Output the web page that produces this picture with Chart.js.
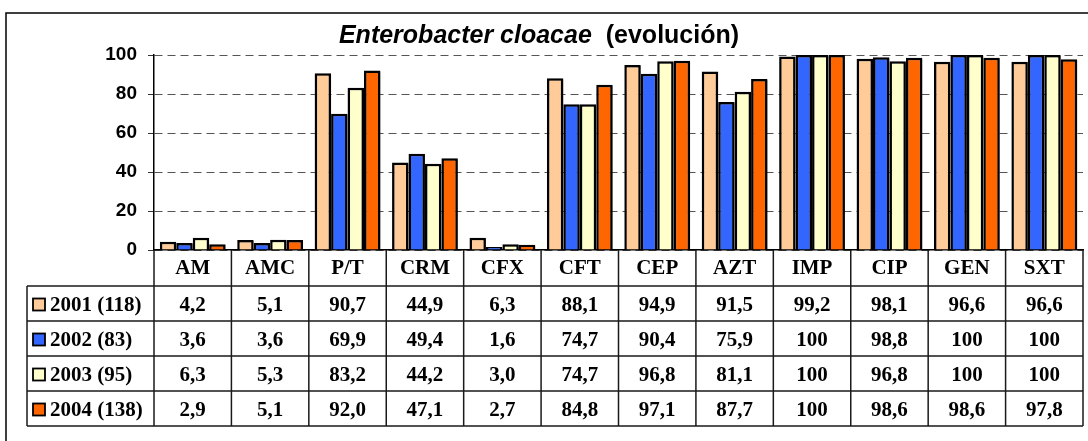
<!DOCTYPE html>
<html>
<head>
<meta charset="utf-8">
<script src="https://cdn.jsdelivr.net/npm/chart.js@4/dist/chart.umd.min.js"></script>
<style>
  html, body { margin: 0; padding: 0; background: #fff; }
  #wrap { width: 1088px; height: 441px; }
</style>
</head>
<body>
<div id="wrap"><canvas id="chart" width="1088" height="441"></canvas></div>
<script>
const categories = ["AM", "AMC", "P/T", "CRM", "CFX", "CFT", "CEP", "AZT", "IMP", "CIP", "GEN", "SXT"];
const seriesLabels = ["2001 (118)", "2002 (83)", "2003 (95)", "2004 (138)"];
const seriesColors = ["#FFCC99", "#3366FF", "#FFFFCC", "#FF6600"];

const v2001 = [4.2, 5.1, 90.7, 44.9, 6.3, 88.1, 94.9, 91.5, 99.2, 98.1, 96.6, 96.6];
const v2002 = [3.6, 3.6, 69.9, 49.4, 1.6, 74.7, 90.4, 75.9, 100, 98.8, 100, 100];
const v2003 = [6.3, 5.3, 83.2, 44.2, 3.0, 74.7, 96.8, 81.1, 100, 96.8, 100, 100];
const v2004 = [2.9, 5.1, 92.0, 47.1, 2.7, 84.8, 97.1, 87.7, 100, 98.6, 98.6, 97.8];

const yMin = 0;
const yMax = 100;
const yStep = 20;

const titleItalic = "Enterobacter cloacae";
const titleRest = "  (evolución)";

const serif = '"Liberation Serif", "Times New Roman", serif';
const sans = '"Liberation Sans", Arial, sans-serif';

function fmt(v) {
  return v === 100 ? "100" : v.toFixed(1).replace(".", ",");
}

// white background, outer frame, title and the data table under the axis
const tablePlugin = {
  id: "dataTable",
  beforeDraw(chart) {
    const ctx = chart.ctx;
    ctx.save();
    ctx.fillStyle = "#fff";
    ctx.fillRect(0, 0, chart.width, chart.height);
    ctx.restore();
  },
  beforeDatasetsDraw(chart) {
    // light drop shadow behind the bars
    const ctx = chart.ctx;
    ctx.save();
    ctx.shadowColor = "rgba(0,0,0,0.35)";
    ctx.shadowOffsetX = 2;
    ctx.shadowOffsetY = 1;
    ctx.shadowBlur = 0;
  },
  afterDatasetsDraw(chart) {
    chart.ctx.restore();
  },
  afterDraw(chart) {
    const { ctx, chartArea: area, scales: { x } } = chart;
    const colW = (x.right - x.left) / categories.length;
    const headerH = 36, rowH = 35, legendLeft = 27;
    const top = area.bottom;
    const rowsTop = top + headerH;
    const bottom = rowsTop + rowH * seriesLabels.length;

    ctx.save();

    // frame
    ctx.strokeStyle = "#000";
    ctx.lineWidth = 1.5;
    ctx.strokeRect(6, 13, chart.width + 20, chart.height + 20);

    // title
    ctx.fillStyle = "#000";
    ctx.textBaseline = "alphabetic";
    ctx.font = "italic bold 25px " + sans;
    const w1 = ctx.measureText(titleItalic).width;
    ctx.font = "bold 25px " + sans;
    const w2 = ctx.measureText(titleRest).width;
    let tx = chart.width / 2 - 5 - (w1 + w2) / 2;
    ctx.font = "italic bold 25px " + sans;
    ctx.fillText(titleItalic, tx, 43);
    ctx.font = "bold 25px " + sans;
    ctx.fillText(titleRest, tx + w1, 43);

    // table grid
    ctx.strokeStyle = "#1a1a1a";
    ctx.lineWidth = 1.5;
    ctx.beginPath();
    for (let i = 0; i <= categories.length; i++) {
      const px = x.left + i * colW;
      ctx.moveTo(px, top);
      ctx.lineTo(px, bottom);
    }
    ctx.moveTo(legendLeft, rowsTop);
    ctx.lineTo(legendLeft, bottom);
    for (let r = 0; r <= seriesLabels.length; r++) {
      const py = rowsTop + r * rowH;
      ctx.moveTo(legendLeft, py);
      ctx.lineTo(x.right, py);
    }
    ctx.stroke();

    // rows: legend key + values
    ctx.font = "bold 21px " + serif;
    ctx.textBaseline = "middle";
    chart.data.datasets.forEach((ds, r) => {
      const cy = rowsTop + r * rowH + rowH / 2 + 1;
      ctx.fillStyle = ds.backgroundColor;
      ctx.fillRect(33, cy - 6, 12, 12);
      ctx.strokeStyle = "#000";
      ctx.lineWidth = 1.8;
      ctx.strokeRect(33, cy - 6, 12, 12);
      ctx.fillStyle = "#000";
      ctx.textAlign = "left";
      ctx.fillText(ds.label, 50, cy + 1);
      ctx.textAlign = "center";
      ds.data.forEach((v, i) => {
        ctx.fillText(fmt(v), x.getPixelForValue(i), cy + 1);
      });
    });

    ctx.restore();
  }
};

const allSeries = [v2001, v2002, v2003, v2004];

new Chart(document.getElementById("chart"), {
  type: "bar",
  data: {
    labels: categories,
    datasets: allSeries.map((d, i) => ({
      label: seriesLabels[i],
      data: d,
      backgroundColor: seriesColors[i],
      borderColor: "#000",
      borderWidth: 2.5,
      categoryPercentage: 0.85,
      barPercentage: 1.0
    }))
  },
  options: {
    responsive: false,
    animation: false,
    devicePixelRatio: 1,
    layout: { padding: { top: 55, right: 5, bottom: 0, left: 0 } },
    plugins: {
      legend: { display: false },
      title: { display: false },
      tooltip: { enabled: false }
    },
    scales: {
      x: {
        grid: { display: false, drawTicks: false },
        border: { display: true, color: "#000", width: 1.5 },
        ticks: {
          color: "#000",
          padding: 6,
          maxRotation: 0,
          font: { family: serif, size: 21, weight: "bold" }
        },
        afterFit(scale) { scale.height = 191; }
      },
      y: {
        min: yMin,
        max: yMax,
        grid: {
          color: "#555",
          lineWidth: 1,
          tickLength: 6,
          tickColor: "#333",
          tickBorderDash: []
        },
        border: { display: true, color: "#000", width: 1.5, dash: [8, 5] },
        ticks: {
          stepSize: yStep,
          color: "#000",
          padding: 11,
          font: { family: sans, size: 19, weight: "bold" }
        },
        afterFit(scale) { scale.width = 154; }
      }
    }
  },
  plugins: [tablePlugin]
});
</script>
</body>
</html>
